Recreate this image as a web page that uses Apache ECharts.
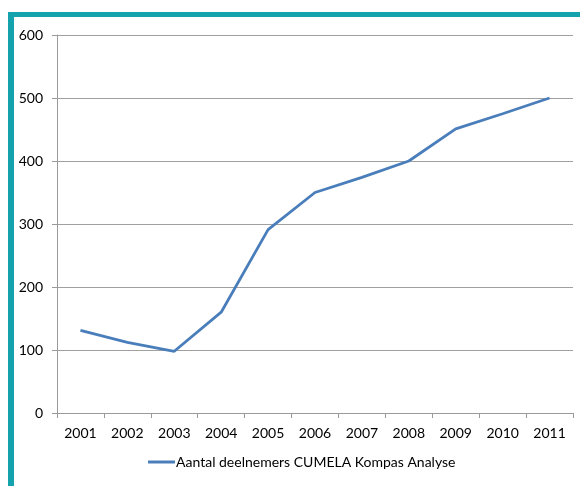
<!DOCTYPE html>
<html><head><meta charset="utf-8">
<script src="https://cdn.jsdelivr.net/npm/echarts@6/dist/echarts.min.js"></script>
<style>html,body{margin:0;padding:0;background:#fff}#c{width:580px;height:486px}</style>
</head><body><div id="c"></div>
<script>
const years = ['2001','2002','2003','2004','2005','2006','2007','2008','2009','2010','2011'];
const deelnemers = [131, 112, 98, 160, 291, 350, 374, 400, 451, 475, 500];
const seriesName = 'Aantal deelnemers CUMELA Kompas Analyse';
const yTicks = {min: 0, max: 600, interval: 100};

const chart = echarts.init(document.getElementById('c'), null, {renderer: 'canvas'});
const font = 'Lato, "Open Sans", sans-serif';
chart.setOption({
  animation: false,
  graphic: [
    {type: 'rect', shape: {x: 8, y: 12, width: 572, height: 5}, style: {fill: '#14a2ad'}},
    {type: 'rect', shape: {x: 8, y: 12, width: 6, height: 474}, style: {fill: '#14a2ad'}}
  ],
  grid: {left: 57, right: 7, top: 35, bottom: 73, containLabel: false},
  xAxis: {
    type: 'category', data: years, boundaryGap: true,
    axisLine: {lineStyle: {color: '#9a9a9a', width: 1}},
    axisTick: {show: true, alignWithLabel: false, length: 5, lineStyle: {color: '#9a9a9a'}},
    axisLabel: {color: '#000', fontFamily: font, fontSize: 14, margin: 13}
  },
  yAxis: {
    type: 'value', min: yTicks.min, max: yTicks.max, interval: yTicks.interval,
    axisLine: {show: true, lineStyle: {color: '#9a9a9a', width: 1}},
    axisTick: {show: true, length: 5, lineStyle: {color: '#9a9a9a'}},
    splitLine: {lineStyle: {color: '#a0a0a0', width: 1}},
    axisLabel: {color: '#000', fontFamily: font, fontSize: 14, margin: 14}
  },
  legend: {
    data: [seriesName], bottom: 12, left: 143,
    itemWidth: 27, itemHeight: 3, itemGap: 4,
    icon: 'rect',
    textStyle: {color: '#000', fontFamily: font, fontSize: 14, padding: [0,0,0,-4]}
  },
  series: [{
    name: seriesName, type: 'line', data: deelnemers,
    symbol: 'none', lineStyle: {color: '#4a7ebb', width: 2.8},
    itemStyle: {color: '#4a7ebb'}
  }]
});
</script></body></html>
